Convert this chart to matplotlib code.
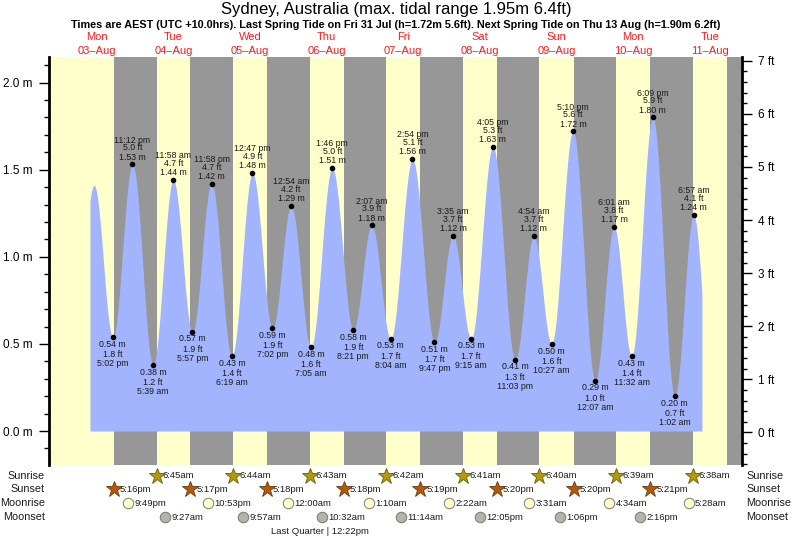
import numpy as np
import pandas as pd
import matplotlib
matplotlib.use("Agg")
import matplotlib.pyplot as plt
from matplotlib import transforms

plt.rcParams['font.family'] = ['Liberation Sans', 'DejaVu Sans']

BASE = pd.Timestamp("2020-08-03 00:00")

# ---------------- data ----------------
title = "Sydney, Australia (max. tidal range 1.95m 6.4ft)"
subtitle = ("Times are AEST (UTC +10.0hrs). Last Spring Tide on Fri 31 Jul (h=1.72m 5.6ft). "
            "Next Spring Tide on Thu 13 Aug (h=1.90m 6.2ft)")

day_names = ["Mon", "Tue", "Wed", "Thu", "Fri", "Sat", "Sun", "Mon", "Tue"]
day_dates = ["03\u2013Aug", "04\u2013Aug", "05\u2013Aug", "06\u2013Aug", "07\u2013Aug",
             "08\u2013Aug", "09\u2013Aug", "10\u2013Aug", "11\u2013Aug"]
day_noons = ["08-03 12:00", "08-04 12:00", "08-05 12:00", "08-06 12:00", "08-07 12:00",
             "08-08 12:00", "08-09 12:00", "08-10 12:00", "08-11 12:00"]

# tide extremes (first two and last are off-label, only shape the curve)
tide_times = ["08-03 04:50", "08-03 11:10", "08-03 17:02", "08-03 23:12", "08-04 05:39",
              "08-04 11:58", "08-04 17:57", "08-04 23:58", "08-05 06:19", "08-05 12:47",
              "08-05 19:02", "08-06 00:54", "08-06 07:05", "08-06 13:46", "08-06 20:21",
              "08-07 02:07", "08-07 08:04", "08-07 14:54", "08-07 21:47", "08-08 03:35",
              "08-08 09:15", "08-08 16:05", "08-08 23:03", "08-09 04:54", "08-09 10:27",
              "08-09 17:10", "08-10 00:07", "08-10 06:01", "08-10 11:32", "08-10 18:09",
              "08-11 01:02", "08-11 06:57", "08-11 12:40"]
tide_heights_m = [0.45, 1.41, 0.54, 1.53, 0.38, 1.44, 0.57, 1.42, 0.43, 1.48, 0.59, 1.29,
                  0.48, 1.51, 0.58, 1.18, 0.53, 1.56, 0.51, 1.12, 0.53, 1.63, 0.41, 1.12,
                  0.50, 1.72, 0.29, 1.17, 0.43, 1.80, 0.20, 1.24, 0.18]
tide_heights_ft = [None, None, "1.8", "5.0", "1.2", "4.7", "1.9", "4.7", "1.4", "4.9", "1.9",
                   "4.2", "1.6", "5.0", "1.9", "3.9", "1.7", "5.1", "1.7", "3.7", "1.7", "5.3",
                   "1.3", "3.7", "1.6", "5.6", "1.0", "3.8", "1.4", "5.9", "0.7", "4.1", None]
tide_start = "08-03 09:53"
tide_end = "08-11 09:33"

sunrise_times = ["08-04 06:45", "08-05 06:44", "08-06 06:43", "08-07 06:42",
                 "08-08 06:41", "08-09 06:40", "08-10 06:39", "08-11 06:38"]
sunset_times = ["08-03 17:16", "08-04 17:17", "08-05 17:18", "08-06 17:18",
                "08-07 17:19", "08-08 17:20", "08-09 17:20", "08-10 17:21"]
last_sunset = "08-11 17:22"
moonrise_times = ["08-03 21:49", "08-04 22:53", "08-06 00:00", "08-07 01:10",
                  "08-08 02:22", "08-09 03:31", "08-10 04:34", "08-11 05:28"]
moonset_times = ["08-04 09:27", "08-05 09:57", "08-06 10:32", "08-07 11:14",
                 "08-08 12:05", "08-09 13:06", "08-10 14:16"]
moon_phase_name = "Last Quarter"
moon_phase_time = "08-06 12:22"

row_names = ["Sunrise", "Sunset", "Moonrise", "Moonset"]


# ---------------- helpers ----------------
def ts(s):
    return pd.Timestamp("2020-" + s)


def day(s):
    return (ts(s) - BASE) / pd.Timedelta(days=1)


def fmt(s, space=False):
    t = ts(s)
    h = t.hour % 12
    h = 12 if h == 0 else h
    ap = "am" if t.hour < 12 else "pm"
    return f"{h}:{t.minute:02d}{' ' if space else ''}{ap}"


W, H = 793, 539
YELLOW = "#ffffcc"
GRAY = "#979797"
BLUE = "#a2b4fd"
TXT = "#1a1a1a"

fig = plt.figure(figsize=(W / 100, H / 100), dpi=100)
L, R, T, B = 49, 742, 57, 465
ax = fig.add_axes([L / W, 1 - B / H, (R - L) / W, (B - T) / H])

x0 = (L - 58.4) / 76.63
x1 = (R - 58.4) / 76.63
ymin, ymax = -0.195, 2.147
ax.set_xlim(x0, x1)
ax.set_ylim(ymin, ymax)

# background: day / night
ax.set_facecolor(YELLOW)
for ss, sr in zip(sunset_times, sunrise_times):
    ax.axvspan(day(ss), day(sr), color=GRAY, lw=0, zorder=0)
ax.axvspan(day(last_sunset), x1, color=GRAY, lw=0, zorder=0)

# tide curve
te = np.array([day(s) for s in tide_times])
he = np.array(tide_heights_m)
t = np.linspace(day(tide_start), day(tide_end), 4000)
idx = np.clip(np.searchsorted(te, t) - 1, 0, len(te) - 2)
f = (t - te[idx]) / (te[idx + 1] - te[idx])
h = he[idx] + (he[idx + 1] - he[idx]) * (1 - np.cos(np.pi * f)) / 2
ax.fill_between(t, 0, h, color=BLUE, lw=0, zorder=2)

# labels on extremes
px2pt = 72 / 100
for i, (s, hm, hf) in enumerate(zip(tide_times, tide_heights_m, tide_heights_ft)):
    if hf is None:
        continue
    xd = day(s)
    ax.plot(xd, hm, 'o', color='black', ms=3, zorder=4)
    high = hm > tide_heights_m[i - 1]
    lines = [f"{hm:.2f} m", f"{hf} ft", fmt(s, space=True)]
    offs = [7.3, 16.5, 24.3] if high else [-7.2, -17.5, -26.5]
    for txt, o in zip(lines, offs):
        ax.annotate(txt, (xd, hm), xytext=(0, o * px2pt), textcoords='offset points',
                    ha='center', va='center', fontsize=6.3, color=TXT, zorder=5)

# axes styling
for sp in ['top', 'bottom']:
    ax.spines[sp].set_visible(False)
ax.spines['right'].set_visible(False)
ax.spines['left'].set_linewidth(2)
ax.set_xticks([])
ax.set_yticks([0.0, 0.5, 1.0, 1.5, 2.0])
ax.set_yticklabels(["0.0 m", "0.5 m", "1.0 m", "1.5 m", "2.0 m"])
ax.set_yticks(np.arange(-0.1, 2.15, 0.1), minor=True)
ax.tick_params(axis='y', which='major', length=7, width=1, pad=5, labelsize=8.5,
               colors='black')
ax.tick_params(axis='y', which='minor', length=3.5, width=1)

ax2 = ax.twinx()
off = 0.008
ax2.set_ylim((ymin + off) / 0.3048, (ymax + off) / 0.3048)
for sp in ['top', 'bottom', 'left']:
    ax2.spines[sp].set_visible(False)
ax2.spines['right'].set_linewidth(2)
ax2.set_yticks(range(0, 8))
ax2.set_yticklabels([f"{k} ft" for k in range(0, 8)])
ax2.set_yticks(np.arange(-0.6, 7.01, 0.2), minor=True)
ax2.tick_params(axis='y', which='major', length=7, width=1, pad=4.5, labelsize=8.5)
ax2.tick_params(axis='y', which='minor', length=3.5, width=1)

# titles
fig.text(396 / W, 1 - 9.5 / H, title, ha='center', va='center', fontsize=12, color='black')
fig.text(396 / W, 1 - 25.5 / H, subtitle, ha='center', va='center', fontsize=7.85,
         fontweight='bold', color='black')

# day labels
bt = transforms.blended_transform_factory(ax.transData, fig.transFigure)
for n, d, s in zip(day_names, day_dates, day_noons):
    ax.text(day(s), 1 - 37 / H, n, transform=bt, ha='center', va='center',
            fontsize=8, color='#ff1a1a', clip_on=False)
    ax.text(day(s), 1 - 51 / H, d, transform=bt, ha='center', va='center',
            fontsize=8, color='#ff1a1a', clip_on=False)

# sun / moon rows
row_y = [476, 489, 503, 517]
for name, y in zip(row_names, row_y):
    fig.text(45 / W, 1 - y / H, name, ha='right', va='center', fontsize=7.8, color=TXT)
    fig.text(746 / W, 1 - y / H, name, ha='left', va='center', fontsize=7.8, color=TXT)

events = [
    (sunrise_times, row_y[0], dict(marker='*', ms=12, mfc='#b39a0a', mec='#6b5c10', mew=0.6)),
    (sunset_times, row_y[1], dict(marker='*', ms=12, mfc='#b35a08', mec='#6b3a10', mew=0.6)),
    (moonrise_times, row_y[2], dict(marker='o', ms=7.5, mfc='#ffffcc', mec='#8a8a80', mew=0.8)),
    (moonset_times, row_y[3], dict(marker='o', ms=7.5, mfc='#b4b4a8', mec='#808078', mew=0.8)),
]
for times, y, style in events:
    for s in times:
        xd = day(s)
        ax.plot([xd], [1 - y / H], transform=bt, clip_on=False, zorder=6, **style)
        ax.annotate(fmt(s), (xd, 1 - y / H), xycoords=bt, xytext=(4.5, 0),
                    textcoords='offset points', ha='left', va='center',
                    fontsize=6.8, color=TXT, annotation_clip=False)

ax.annotate(f"{moon_phase_name} | {fmt(moon_phase_time)}", (day(moon_phase_time), 1 - 532 / H),
            xycoords=bt, xytext=(-6, 0), textcoords='offset points', ha='center', va='center',
            fontsize=6.8, color=TXT, annotation_clip=False)

fig.savefig("out.png", dpi=100)
